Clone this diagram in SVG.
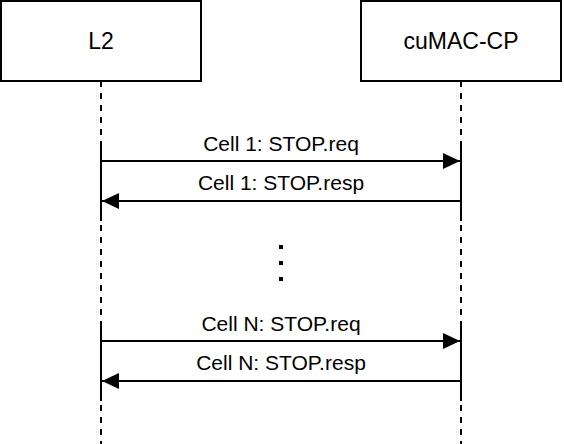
<svg xmlns="http://www.w3.org/2000/svg" width="564" height="444" viewBox="0 0 564 444">
<style>
.box{fill:#fff;stroke:#000;stroke-width:2}
.lbl{font-family:"Liberation Sans",Arial,sans-serif;font-size:23px;fill:#000;text-anchor:middle}
.msg{font-family:"Liberation Sans",Arial,sans-serif;font-size:21px;fill:#000;text-anchor:middle}
.life{stroke:#000;stroke-width:2;stroke-dasharray:6 6;fill:none}
.act{stroke:#000;stroke-width:2;fill:none}
.arr{stroke:#000;stroke-width:2;fill:none}
</style>
<defs>
<marker id="ah" viewBox="0 0 17 16" refX="17" refY="8" markerWidth="17" markerHeight="16" markerUnits="userSpaceOnUse" orient="auto">
<path d="M0,0 L17,8 L0,16 Z" fill="#000"/>
</marker>
</defs>
<rect width="564" height="444" fill="#fff"/>
<g id="lifelines">
<path class="life" d="M101,81 V444"/>
<path class="life" d="M461,81 V444"/>
<path class="act" d="M101,141 V221 M101,321 V401"/>
<path class="act" d="M461,141 V221 M461,321 V401"/>
</g>
<g id="node-L2">
<rect class="box" x="1" y="1" width="200" height="80"/>
<text class="lbl" x="101" y="49">L2</text>
</g>
<g id="node-cuMAC-CP">
<rect class="box" x="361" y="1" width="200" height="80"/>
<text class="lbl" x="461" y="49">cuMAC-CP</text>
</g>
<g id="connectors">
<path class="arr" d="M101,161 H460" marker-end="url(#ah)"/>
<path class="arr" d="M461,201 H102" marker-end="url(#ah)"/>
<path class="arr" d="M101,341 H460" marker-end="url(#ah)"/>
<path class="arr" d="M461,381 H102" marker-end="url(#ah)"/>
</g>
<g id="labels">
<text class="msg" x="281" y="151">Cell 1: STOP.req</text>
<text class="msg" x="281" y="190">Cell 1: STOP.resp</text>
<text class="msg" x="281" y="331">Cell N: STOP.req</text>
<text class="msg" x="281" y="370">Cell N: STOP.resp</text>
</g>
<g id="ellipsis">
<path d="M281,245 V281" stroke="#000" stroke-width="4" stroke-dasharray="4 12" fill="none"/>
</g>
</svg>
